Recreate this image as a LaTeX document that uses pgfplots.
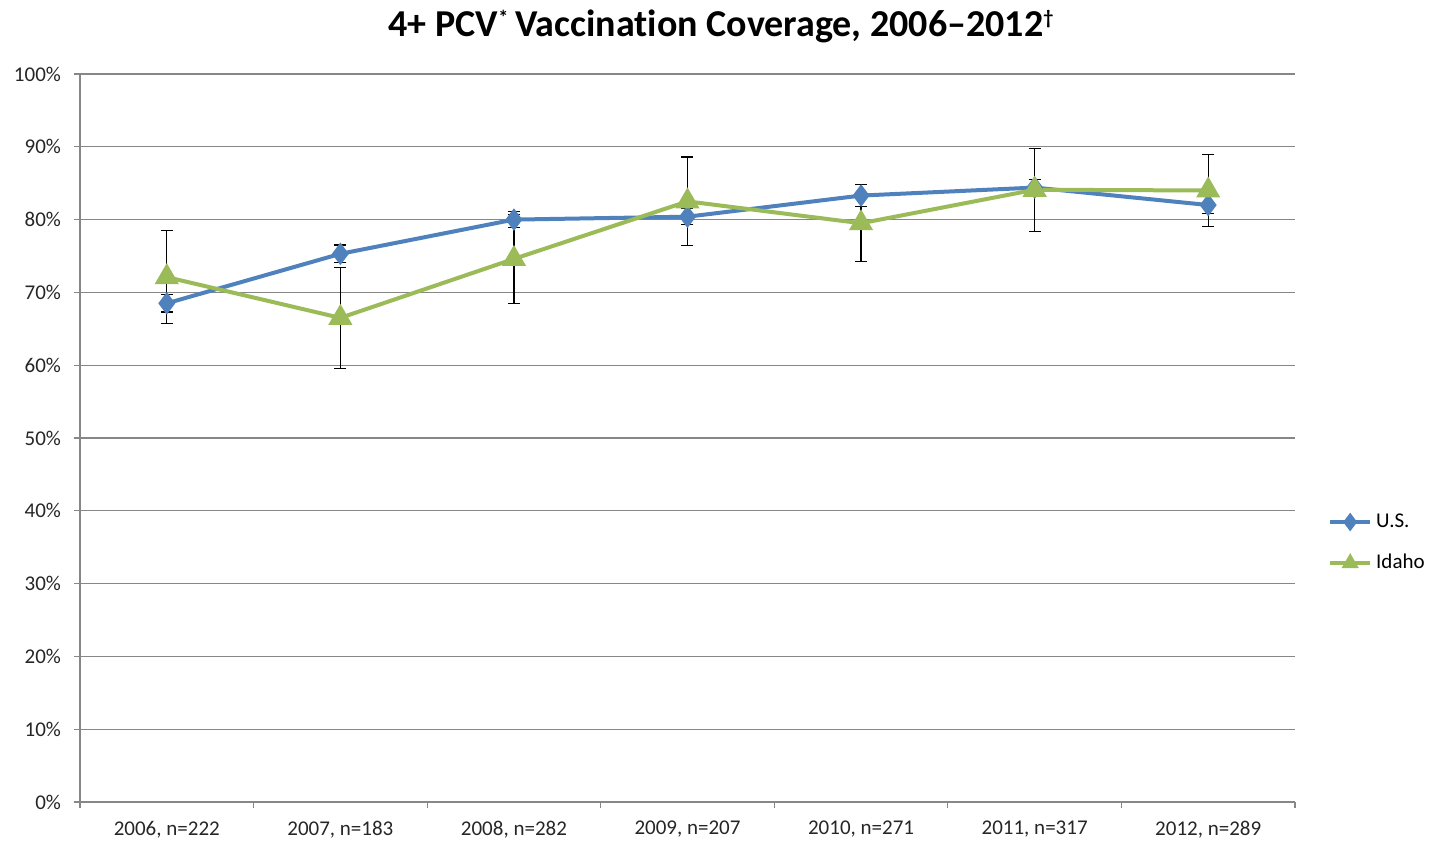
\documentclass[border=0pt]{standalone}
\usepackage{fontspec}
\setmainfont{Carlito}[Ligatures=NoCommon]
\usepackage{pgfplots}
\pgfplotsset{compat=1.18}
\definecolor{usblue}{HTML}{4F81BD}
\definecolor{idgreen}{HTML}{9BBB59}
\definecolor{gridgray}{HTML}{878787}
\begin{document}
\begin{tikzpicture}
\begin{axis}[
    name=ax,
    scale only axis,
    width=607.5pt, height=364pt,
    xmin=-0.5, xmax=6.5,
    ymin=0, ymax=100,
    xtick={0,...,6},
    xticklabels={{2006, n=222},{2007, n=183},{2008, n=282},{2009, n=207},{2010, n=271},{2011, n=317},{2012, n=289}},
    minor xtick={-0.5,0.5,...,6.5},
    ytick={0,10,...,100},
    yticklabel={\pgfmathprintnumber{\tick}\%},
    /pgf/number format/assume math mode=true,
    tick align=outside,
    tick pos=lower,
    major x tick style={draw=none},
    minor tick length=3pt,
    major tick length=3pt,
    tick style={gridgray, line width=0.6pt},
    axis x line*=bottom,
    axis y line*=left,
    axis line style={gridgray, line width=0.6pt, -},
    ymajorgrids,
    major grid style={gridgray, line width=0.6pt},
    ticklabel style={font=\fontsize{10.5}{12}\selectfont, text=black!85},
    xticklabel style={yshift=-3pt},
    yticklabel style={xshift=-3pt},
    title={\bfseries 4+ PCV\textsuperscript{\fontsize{10}{10}\selectfont *}\,Vaccination Coverage, 2006--2012\textsuperscript{\fontsize{10}{10}\selectfont\dag}},
    title style={font=\fontsize{19}{22}\selectfont, at={(0.528,1)}, anchor=base, yshift=12.5pt},
    legend style={at={(1.027,0.356)}, anchor=west, draw=none, fill=none,
        font=\fontsize{10.5}{12}\selectfont, row sep=8pt, inner xsep=0pt,
        legend cell align=left},
    legend image code/.code={\draw[mark repeat=2,mark phase=2,#1,mark size=3pt] plot coordinates {(0pt,0pt)(10pt,0pt)(20pt,0pt)};},
    error bars/y dir=both,
    error bars/y explicit,
    error bars/error bar style={black, line width=0.6pt},
    error bars/error mark options={rotate=90, black, mark size=3pt, line width=0.6pt},
]
\addplot[usblue, line width=2pt, mark=diamond*, mark size=4pt, mark options={fill=usblue, solid}]
table[x=x, y=y, y error=e] {
x y e
0 68.5 1.2
1 75.3 1.2
2 80.0 1.1
3 80.4 1.1
4 83.3 1.5
5 84.4 1.1
6 82.0 1.2
};
\addlegendentry{U.S.}
\addplot[idgreen, line width=2pt, mark=triangle*, mark size=5pt, mark options={fill=idgreen, solid}]
table[x=x, y=y, y error=e] {
x y e
0 72.1 6.4
1 66.5 6.9
2 74.6 6.1
3 82.5 6.1
4 79.5 5.3
5 84.1 5.7
6 84.0 4.9
};
\addlegendentry{Idaho}
\end{axis}
\pgfresetboundingbox
\path (ax.south west) ++(-40pt,-20pt) rectangle ++(714.5pt,421pt);
\end{tikzpicture}
\end{document}
